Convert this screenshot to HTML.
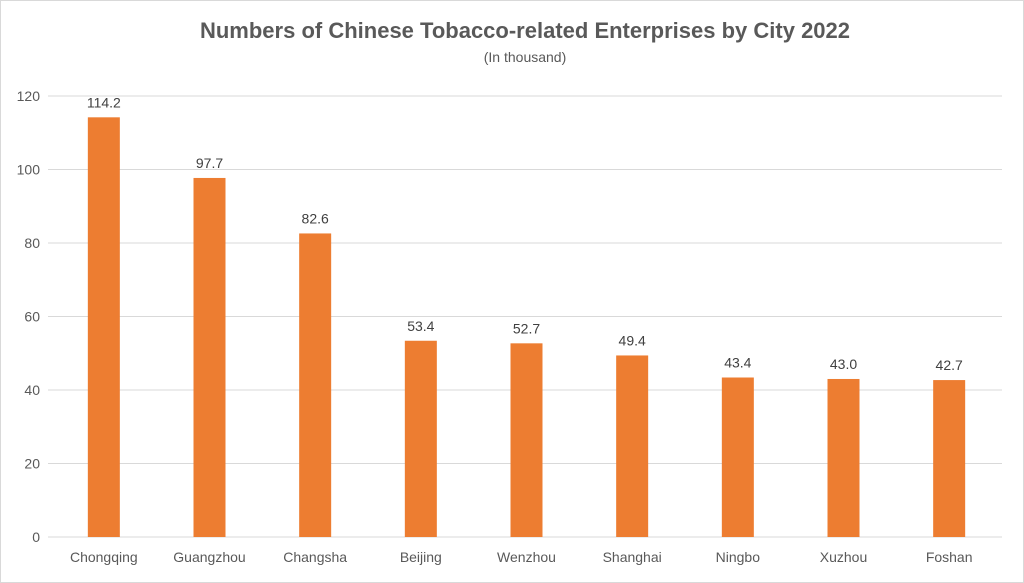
<!DOCTYPE html>
<html><head><meta charset="utf-8">
<style>
body{margin:0;background:#fff;}
svg{display:block;font-family:"Liberation Sans",sans-serif;}
</style></head>
<body>
<svg id="chart" width="1024" height="583" viewBox="0 0 1024 583">
<rect x="0.5" y="0.5" width="1023" height="582" fill="#fff" stroke="#d9d9d9"/>
<text x="525" y="38" text-anchor="middle" font-size="22" font-weight="bold" fill="#595959">Numbers of Chinese Tobacco-related Enterprises by City 2022</text>
<text x="525" y="62" text-anchor="middle" font-size="14" fill="#595959">(In thousand)</text>
<g id="grid"></g><g id="bars"></g>
</svg>
<script>
const categories=["Chongqing","Guangzhou","Changsha","Beijing","Wenzhou","Shanghai","Ningbo","Xuzhou","Foshan"];
const values=[114.2,97.7,82.6,53.4,52.7,49.4,43.4,43.0,42.7];
const yTicks=[0,20,40,60,80,100,120];
const NS="http://www.w3.org/2000/svg";
const left=51,right=1002,y0=537,y120=96,yMax=120;
const y=v=>y0-(v/yMax)*(y0-y120);
const step=(right-left)/categories.length;
const x=i=>left+step*(i+0.5);
const bw=32;
function mk(t,a,p){const e=document.createElementNS(NS,t);for(const k in a)e.setAttribute(k,a[k]);p.appendChild(e);return e;}
const g=document.getElementById('grid'),b=document.getElementById('bars');
yTicks.forEach(t=>{
 const l=mk('line',{x1:left-3,x2:right,y1:y(t),y2:y(t),stroke:'#d9d9d9','stroke-width':1},g);
 
 
 const tx=mk('text',{x:40,y:y(t)+5,'text-anchor':'end','font-size':14,fill:'#595959'},g);
 tx.textContent=t;
 
 
});
categories.forEach((c,i)=>{
 const r=mk('rect',{x:x(i)-bw/2,y:y(values[i]),width:bw,height:y0-y(values[i]),fill:'#ed7d31'},b);
 
 
 const v=mk('text',{x:x(i),y:y(values[i])-10,'text-anchor':'middle','font-size':14,fill:'#404040'},b);
 v.textContent=values[i].toFixed(1);
 
 
 const l=mk('text',{x:x(i),y:562,'text-anchor':'middle','font-size':14,fill:'#595959'},b);
 l.textContent=c;
 
 
});
</script>
</body></html>
